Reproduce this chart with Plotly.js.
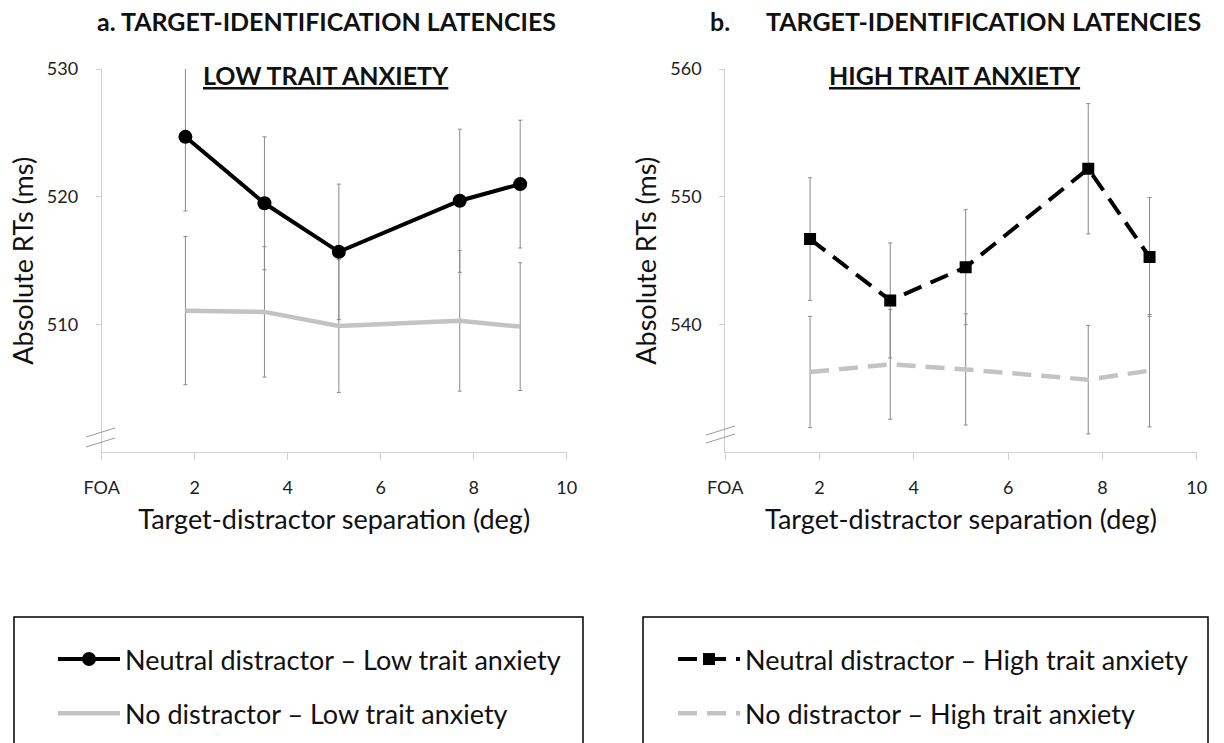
<!DOCTYPE html>
<html>
<head>
<meta charset="utf-8">
<script src="https://cdn.plot.ly/plotly-3.0.1.min.js"></script>
<style>html,body{margin:0;padding:0;background:#fff;}#chart{width:1224px;height:743px;}</style>
</head>
<body>
<div id="chart"></div>
<script>
// ---- Data ----
var separation = [1.8, 3.5, 5.1, 7.7, 9.0];
var xTickVals = [0, 2, 4, 6, 8, 10];
var xTickText = ['FOA', '2', '4', '6', '8', '10'];

var neutralLow = [524.7, 519.5, 515.7, 519.7, 521.0];
var neutralLowErr = [5.8, 5.2, 5.3, 5.6, 5.0];
var noDistLow = [511.1, 511.0, 509.9, 510.3, 509.85];
var noDistLowErr = [5.8, 5.1, 5.2, 5.5, 5.0];

var neutralHigh = [546.7, 541.9, 544.5, 552.2, 545.3];
var neutralHighErr = [4.8, 4.5, 4.5, 5.1, 4.65];
var noDistHigh = [536.3, 536.9, 536.5, 535.7, 536.4];
var noDistHighErr = [4.35, 4.3, 4.35, 4.25, 4.4];

var lowTicks = [510, 520, 530];
var highTicks = [540, 550, 560];

var seriesNames = [
  'Neutral distractor \u2013 Low trait anxiety',
  'No distractor \u2013 Low trait anxiety',
  'Neutral distractor \u2013 High trait anxiety',
  'No distractor \u2013 High trait anxiety'
];

// ---- Styling ----
var FONT = 'Lato, "Open Sans", sans-serif';
var W = 1224, H = 743;
function px(x) { return x / W; }
function py(y) { return 1 - y / H; }
var errStyle = {color: '#8a8a8a', thickness: 1, width: 2};

function err(arr) {
  return Object.assign({type: 'data', array: arr, symmetric: true, visible: true}, errStyle);
}

var traces = [
  {x: separation, y: noDistLow, name: seriesNames[1], xaxis: 'x', yaxis: 'y', mode: 'lines',
   line: {color: '#c3c3c3', width: 4.5}, error_y: err(noDistLowErr), legend: 'legend', legendgroup: 'a2', legendrank: 2},
  {x: separation, y: neutralLow, name: seriesNames[0], xaxis: 'x', yaxis: 'y', mode: 'lines+markers',
   line: {color: '#000', width: 4}, marker: {symbol: 'circle', size: 14, color: '#000'},
   error_y: err(neutralLowErr), legend: 'legend', legendgroup: 'a1', legendrank: 1},
  {x: separation, y: noDistHigh, name: seriesNames[3], xaxis: 'x2', yaxis: 'y2', mode: 'lines',
   line: {color: '#c3c3c3', width: 4.5, dash: '19px,10px'}, error_y: err(noDistHighErr), legend: 'legend2', legendgroup: 'b2', legendrank: 2},
  {x: separation, y: neutralHigh, name: seriesNames[2], xaxis: 'x2', yaxis: 'y2', mode: 'lines+markers',
   line: {color: '#000', width: 4, dash: '19px,10px'}, marker: {symbol: 'square', size: 12, color: '#000'},
   error_y: err(neutralHighErr), legend: 'legend2', legendgroup: 'b1', legendrank: 1}
];

function xAxis(domain, anchor) {
  return {
    domain: domain, anchor: anchor, range: [0, 10], tickvals: xTickVals, ticktext: xTickText,
    showline: true, linecolor: '#d0d0d0', linewidth: 1, ticks: 'outside', ticklen: 7, tickcolor: '#d0d0d0',
    showgrid: false, zeroline: false, automargin: false, ticklabelstandoff: 12,
    tickfont: {family: FONT, size: 18, color: '#222'},
    title: {text: 'Target-distractor separation (deg)', font: {family: FONT, size: 27, color: '#111'}, standoff: 13}
  };
}
function yAxis(range, ticks, anchor) {
  return {
    domain: [0.391, 0.907], range: range, tickvals: ticks, anchor: anchor,
    showline: true, linecolor: '#d0d0d0', linewidth: 1, ticks: 'outside', ticklen: 5, tickcolor: '#d0d0d0',
    showgrid: false, zeroline: false, automargin: false, ticklabelstandoff: 14,
    tickfont: {family: FONT, size: 18, color: '#222'},
    title: {text: 'Absolute RTs (ms)', font: {family: FONT, size: 27, color: '#111'}, standoff: 5}
  };
}

var gray = '#9a9a9a';
var shapes = [
  // axis-break marks
  {type: 'line', xref: 'paper', yref: 'paper', x0: px(86), y0: py(437), x1: px(115), y1: py(428), line: {color: gray, width: 1}},
  {type: 'line', xref: 'paper', yref: 'paper', x0: px(86), y0: py(447), x1: px(115), y1: py(438), line: {color: gray, width: 1}},
  {type: 'line', xref: 'paper', yref: 'paper', x0: px(706), y0: py(435), x1: px(735), y1: py(426), line: {color: gray, width: 1}},
  {type: 'line', xref: 'paper', yref: 'paper', x0: px(706), y0: py(443), x1: px(735), y1: py(434), line: {color: gray, width: 1}},
  // legend frames
  {type: 'rect', xref: 'paper', yref: 'paper', x0: px(14), x1: px(583), y0: -0.2, y1: py(617), line: {color: '#000', width: 1.5}},
  {type: 'rect', xref: 'paper', yref: 'paper', x0: px(643), x1: px(1208), y0: -0.2, y1: py(617), line: {color: '#000', width: 1.5}}
];

var annotations = [
  {text: '<b>a. TARGET-IDENTIFICATION LATENCIES</b>', x: px(326), y: py(21), xref: 'paper', yref: 'paper', showarrow: false,
   xanchor: 'center', yanchor: 'middle', font: {family: FONT, size: 25, color: '#111'}},
  {text: '<b>b.</b>', x: px(708), y: py(21), xref: 'paper', yref: 'paper', showarrow: false,
   xanchor: 'left', yanchor: 'middle', font: {family: FONT, size: 25, color: '#111'}},
  {text: '<b>TARGET-IDENTIFICATION LATENCIES</b>', x: px(983), y: py(21), xref: 'paper', yref: 'paper', showarrow: false,
   xanchor: 'center', yanchor: 'middle', font: {family: FONT, size: 25, color: '#111'}},
  {text: '<b><u>LOW TRAIT ANXIETY</u></b>', x: px(326), y: py(75), xref: 'paper', yref: 'paper', showarrow: false,
   xanchor: 'center', yanchor: 'middle', font: {family: FONT, size: 25, color: '#111'}},
  {text: '<b><u>HIGH TRAIT ANXIETY</u></b>', x: px(955), y: py(75), xref: 'paper', yref: 'paper', showarrow: false,
   xanchor: 'center', yanchor: 'middle', font: {family: FONT, size: 25, color: '#111'}}
];

var legendBase = {
  xanchor: 'left', yanchor: 'top', bgcolor: 'rgba(0,0,0,0)', borderwidth: 0,
  font: {family: FONT, size: 27, color: '#111'}, traceorder: 'grouped', tracegroupgap: 16, itemwidth: 62
};

var layout = {
  width: W, height: H, margin: {l: 0, r: 0, t: 0, b: 0},
  paper_bgcolor: '#fff', plot_bgcolor: '#fff', showlegend: true,
  xaxis: xAxis([px(101.7), px(566.7)], 'y'), yaxis: yAxis([500, 530], lowTicks, 'x'),
  xaxis2: xAxis([px(725.2), px(1196.7)], 'y2'), yaxis2: yAxis([530, 560], highTicks, 'x2'),
  legend: Object.assign({x: px(53), y: py(635)}, legendBase),
  legend2: Object.assign({x: px(673), y: py(635)}, legendBase),
  shapes: shapes, annotations: annotations
};

Plotly.newPlot('chart', traces, layout, {displayModeBar: false, staticPlot: true});
</script>
</body>
</html>
